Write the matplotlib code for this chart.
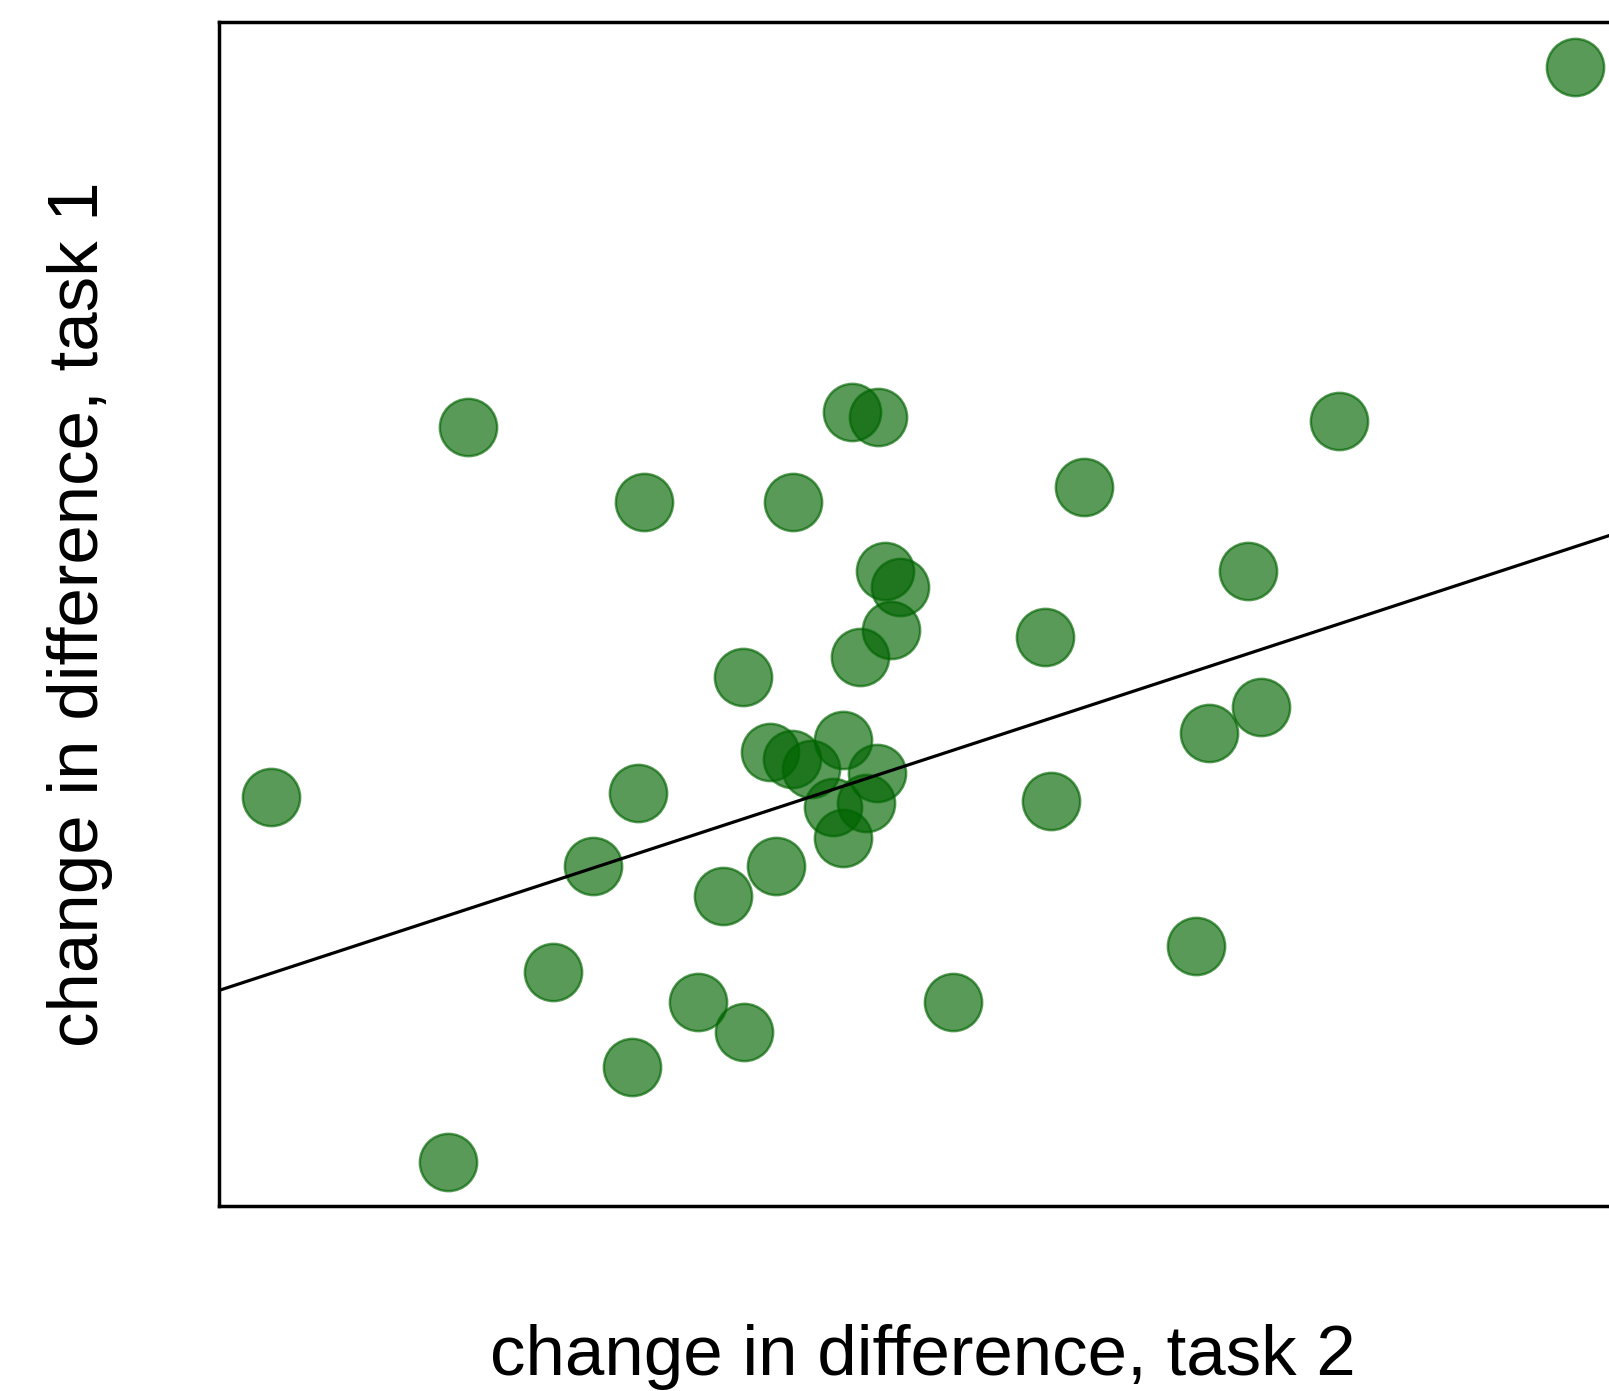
import matplotlib
matplotlib.use("Agg")
import matplotlib.pyplot as plt
import numpy as np

# change in difference, task 2 (x) vs task 1 (y), arbitrary units
task2 = [13.23, 2.43, 6.18, 6.43, 10.93, 4.15, 5.60, 8.44, 6.50, 6.64,
         10.04, 6.56, 6.25, 8.06, 5.11, 10.17, 9.66, 5.38, 5.59, 6.09,
         5.78, 6.42, 0.51, 4.09, 8.12, 5.99, 6.31, 6.09, 3.65, 5.44,
         4.92, 3.26, 9.53, 4.67, 7.16, 5.12, 4.03, 2.24]
task1 = [11.10, 7.59, 7.74, 7.69, 7.65, 6.86, 6.86, 7.01, 6.19, 6.03,
         6.19, 5.61, 5.35, 5.55, 5.16, 4.86, 4.61, 4.42, 4.36, 4.54,
         4.26, 4.22, 3.99, 4.03, 3.95, 3.89, 3.93, 3.59, 3.31, 3.31,
         3.02, 2.28, 2.53, 1.99, 1.99, 1.70, 1.35, 0.43]

# fitted line
fit_intercept = 2.10
fit_slope = 0.327

plt.rcParams["font.family"] = ["Liberation Sans", "DejaVu Sans"]

fig = plt.figure(figsize=(16.09, 13.91), dpi=100)
ax = fig.add_axes([0.1359, 0.1330, 0.875, 0.8512])

ax.scatter(task2, task1, s=1700, c="darkgreen", alpha=0.65,
           edgecolors="darkgreen", linewidths=1.8, zorder=2)

xs = np.array([0, 13.73])
ax.plot(xs, fit_intercept + fit_slope * xs, color="black", lw=2.3, zorder=3)

ax.set_xlim(0, 13.73)
ax.set_ylim(0, 11.54)
ax.set_xticks([])
ax.set_yticks([])
for sp in ax.spines.values():
    sp.set_linewidth(2.5)

ax.set_xlabel("change in difference, task 2", fontsize=51)
ax.set_ylabel("change in difference, task 1", fontsize=51)
ax.xaxis.set_label_coords(0.5, -0.10)
ax.yaxis.set_label_coords(-0.075, 0.5)

fig.savefig("out.png", dpi=100)
